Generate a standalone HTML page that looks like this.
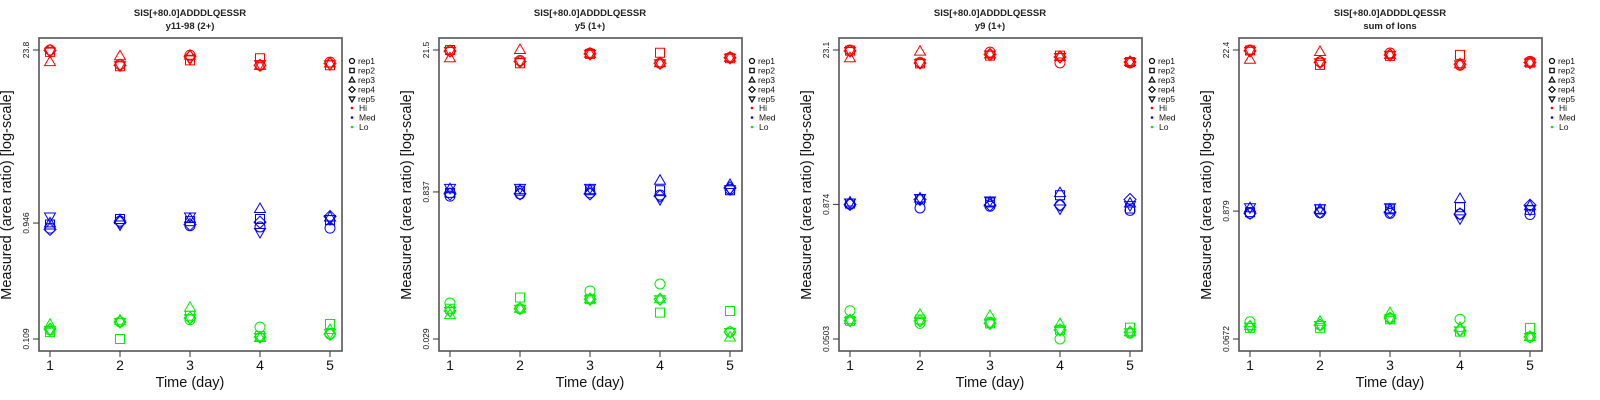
<!DOCTYPE html>
<html><head><meta charset="utf-8"><style>
body{margin:0;background:#fff;}
svg{display:block;font-family:"Liberation Sans",sans-serif;}
</style></head><body>
<svg id="chart" width="1600" height="400" xmlns="http://www.w3.org/2000/svg"></svg>
<script>
const days = [1,2,3,4,5];
const repNames = ["rep1","rep2","rep3","rep4","rep5"];
const levelNames = ["Hi","Med","Lo"];
const levelColors = ["#ff0000","#0000ff","#00ee00"];
const panelTitles = ["y11-98 (2+)","y5 (1+)","y9 (1+)","sum of Ions"];
const tickTop = [23.8,21.5,23.1,22.4];
const tickMid = [0.946,0.837,0.874,0.879];
const tickBot = [0.109,0.029,0.0503,0.0672];
const tickLabelTop = ["23.8","21.5","23.1","22.4"];
const tickLabelMid = ["0.946","0.837","0.874","0.879"];
const tickLabelBot = ["0.109","0.029","0.0503","0.0672"];
// values [rep][day]
const hi1 = [[23.8,18.2,21.6,17.9,19.0],[23.0,17.6,19.6,20.4,17.9],[19.0,21.2,21.4,17.7,18.5],[23.6,17.9,21.0,17.9,18.5],[23.1,17.9,20.2,18.3,18.2]];
const med1 = [[0.86,0.98,0.90,0.88,0.86],[0.92,1.02,0.98,1.02,1.00],[0.94,1.00,1.02,1.23,1.05],[0.84,0.96,0.92,0.96,1.07],[1.07,0.92,1.07,0.80,1.02]];
const lo1 = [[0.129,0.150,0.156,0.136,0.119],[0.124,0.109,0.168,0.115,0.144],[0.142,0.153,0.195,0.111,0.129],[0.131,0.150,0.161,0.113,0.119],[0.129,0.150,0.161,0.113,0.122]];
const hi2 = [[21.0,16.9,20.0,15.9,18.1],[21.5,15.9,19.7,20.2,17.8],[17.8,21.5,19.7,15.9,18.0],[21.0,16.5,19.7,15.9,18.0],[21.0,16.5,19.7,15.9,18.0]];
const med2 = [[0.76,0.80,0.82,0.78,0.89],[0.82,0.86,0.87,0.87,0.87],[0.89,0.87,0.87,1.08,0.98],[0.80,0.80,0.80,0.76,0.92],[0.92,0.92,0.92,0.71,0.89]];
const lo2 = [[0.066,0.058,0.087,0.102,0.034],[0.058,0.075,0.072,0.053,0.055],[0.050,0.058,0.072,0.072,0.030],[0.055,0.058,0.072,0.072,0.034],[0.055,0.058,0.072,0.072,0.034]];
const hi3 = [[23.1,17.7,22.1,17.6,17.6],[22.8,17.4,20.5,20.5,17.9],[19.4,22.3,21.0,19.9,17.9],[22.6,17.5,21.0,19.9,17.9],[22.6,17.5,21.0,19.9,17.9]];
const med3 = [[0.874,0.81,0.84,0.86,0.77],[0.89,0.97,0.91,1.06,0.80],[0.91,0.99,0.91,1.11,0.89],[0.874,0.97,0.86,0.86,0.97],[0.91,1.00,0.95,0.80,0.86]];
const lo3 = [[0.0916,0.070,0.072,0.0503,0.057],[0.074,0.076,0.070,0.061,0.064],[0.075,0.084,0.082,0.069,0.058],[0.074,0.074,0.070,0.061,0.058],[0.074,0.074,0.070,0.061,0.058]];
const hi4 = [[22.4,17.7,21.1,16.5,17.8],[22.2,16.6,19.9,20.3,17.4],[18.4,21.5,20.3,16.8,17.4],[22.0,17.5,20.3,16.8,17.4],[22.0,17.5,20.3,16.8,17.4]];
const med4 = [[0.84,0.85,0.84,0.83,0.82],[0.86,0.91,0.91,0.95,0.90],[0.93,0.90,0.91,1.12,0.97],[0.84,0.86,0.86,0.83,0.99],[0.95,0.93,0.95,0.76,0.91]];
const lo4 = [[0.095,0.089,0.102,0.100,0.070],[0.084,0.084,0.100,0.078,0.084],[0.087,0.095,0.113,0.084,0.070],[0.086,0.089,0.102,0.080,0.070],[0.086,0.089,0.102,0.080,0.070]];
const panelData = [[hi1,med1,lo1],[hi2,med2,lo2],[hi3,med3,lo3],[hi4,med4,lo4]];

const NS="http://www.w3.org/2000/svg";
const svg=document.getElementById('chart');
function mk(tag,attrs,parent){const e=document.createElementNS(NS,tag);for(const k in attrs)e.setAttribute(k,attrs[k]);(parent||svg).appendChild(e);return e;}
const L=39,R=342,T=38,B=351;
function xScale(d){return 50+(d-1)*70;}
function markerPath(rep,x,y){
  const s=5;
  if(rep===1) return `M${x-4.5},${y-4.5}h9v9h-9z`;
  if(rep===2) return `M${x},${y-6}L${x+5.5},${y+3.5}L${x-5.5},${y+3.5}z`;
  if(rep===3) return `M${x},${y-6}L${x+6},${y}L${x},${y+6}L${x-6},${y}z`;
  if(rep===4) return `M${x},${y+6}L${x+5.5},${y-3.5}L${x-5.5},${y-3.5}z`;
  return `M${x-s},${y}a${s},${s} 0 1,0 ${2*s},0a${s},${s} 0 1,0 ${-2*s},0`;
}
panelData.forEach((levels,p)=>{
  const g=mk('g',{transform:`translate(${p*400},0)`});
  
  
  const lt=Math.log(tickTop[p]),lb=Math.log(tickBot[p]);
  const yScale=v=>50+(lt-Math.log(v))/(lt-lb)*289;
  let t=mk('text',{x:190,y:16,'text-anchor':'middle','font-size':9.5,'font-weight':'bold',fill:'#222'},g);t.textContent='SIS[+80.0]ADDDLQESSR';
  
  
  t=mk('text',{x:190,y:29,'text-anchor':'middle','font-size':9.5,'font-weight':'bold',fill:'#222'},g);t.textContent=panelTitles[p];
  
  
  const box=mk('rect',{x:L,y:T,width:R-L,height:B-T,fill:'none',stroke:'#555','stroke-width':1.6},g);
  
  
  days.forEach(d=>{
    const x=xScale(d);
    mk('line',{x1:x,x2:x,y1:B,y2:B+6,stroke:'#333'},g);
    const tl=mk('text',{x:x,y:370,'text-anchor':'middle','font-size':14,fill:'#111'},g);tl.textContent=d;
    
    
  });
  [[tickTop[p],tickLabelTop[p]],[tickMid[p],tickLabelMid[p]],[tickBot[p],tickLabelBot[p]]].forEach(([v,lab])=>{
    const y=yScale(v);
    mk('line',{x1:L-6,x2:L,y1:y,y2:y,stroke:'#333'},g);
    const tl=mk('text',{x:0,y:0,'text-anchor':'middle','font-size':8.5,fill:'#111',transform:`translate(29,${y}) rotate(-90)`},g);tl.textContent=lab;
    
    
  });
  t=mk('text',{x:190,y:387,'text-anchor':'middle','font-size':14.5,fill:'#111'},g);t.textContent='Time (day)';
  
  
  t=mk('text',{x:0,y:0,'text-anchor':'middle','font-size':14.5,fill:'#111',transform:'translate(11,195) rotate(-90)'},g);t.textContent='Measured (area ratio) [log-scale]';
  
  
  levels.forEach((reps,li)=>{
    reps.forEach((vals,ri)=>{
      vals.forEach((v,di)=>{
        const m=mk('path',{d:markerPath(ri,xScale(days[di]),yScale(v)),fill:'none',stroke:levelColors[li],'stroke-width':1},g);
        
        
      });
    });
  });
  // legend
  const legY=[61,70.5,80,89.5,99,108,117.5,127];
  repNames.forEach((r,i)=>{
    const x=352,y=legY[i];
    let d;
    if(i===0) d=`M${x-2.5},${y}a2.5,2.5 0 1,0 5,0a2.5,2.5 0 1,0 -5,0`;
    else if(i===1) d=`M${x-2.2},${y-2.2}h4.4v4.4h-4.4z`;
    else if(i===2) d=`M${x},${y-3}L${x+2.8},${y+2}L${x-2.8},${y+2}z`;
    else if(i===3) d=`M${x},${y-3}L${x+3},${y}L${x},${y+3}L${x-3},${y}z`;
    else d=`M${x},${y+3}L${x+2.8},${y-2}L${x-2.8},${y-2}z`;
    const s=mk('path',{d:d,fill:'none',stroke:'#000','stroke-width':1.2},g);
    
    
    const lt2=mk('text',{x:358,y:y+3,'font-size':8.5,fill:'#111'},g);lt2.textContent=r;
    
    
  });
  levelNames.forEach((n,i)=>{
    const y=legY[5+i];
    const c=mk('circle',{cx:352,cy:y,r:1.3,fill:levelColors[i]},g);
    
    
    const lt2=mk('text',{x:359,y:y+3,'font-size':8.5,fill:'#111'},g);lt2.textContent=n;
    
    
  });
});
</script>
</body></html>
